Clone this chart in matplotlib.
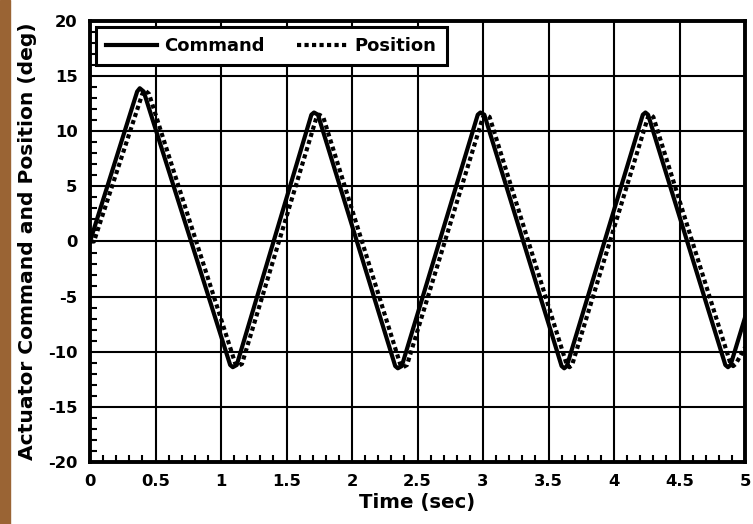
import numpy as np
import matplotlib.pyplot as plt
from matplotlib.patches import Rectangle
from matplotlib.ticker import MultipleLocator

# ---- data ----
cmd_t = [0.00, 0.36, 0.38, 0.41, 1.07, 1.09, 1.12, 1.69, 1.71, 1.74, 2.33, 2.35, 2.38,
         2.96, 2.98, 3.01, 3.60, 3.62, 3.64, 4.22, 4.24, 4.26, 4.85, 4.87, 4.89, 5.00]
cmd_v = [0.0, 13.6, 13.9, 13.6, -11.2, -11.4, -11.2, 11.5, 11.7, 11.5, -11.3, -11.5, -11.3,
         11.5, 11.7, 11.5, -11.3, -11.5, -11.3, 11.5, 11.7, 11.5, -11.2, -11.4, -11.2, -6.9]

pos_t = [0.00, 0.03, 0.40, 0.42, 0.45, 1.11, 1.13, 1.16, 1.73, 1.75, 1.78, 2.37, 2.39, 2.42,
         3.00, 3.02, 3.05, 3.64, 3.66, 3.68, 4.26, 4.28, 4.30, 4.89, 4.91, 4.93, 5.00]
pos_v = [0.0, 0.0, 13.4, 13.7, 13.4, -11.1, -11.3, -11.1, 11.3, 11.5, 11.3, -11.2, -11.4, -11.2,
         11.3, 11.5, 11.3, -11.2, -11.4, -11.2, 11.3, 11.5, 11.3, -11.1, -11.3, -11.1, -9.6]

x_ticks = [0, 0.5, 1, 1.5, 2, 2.5, 3, 3.5, 4, 4.5, 5]
x_labels = ["0", "0.5", "1", "1.5", "2", "2.5", "3", "3.5", "4", "4.5", "5"]
y_ticks = [-20, -15, -10, -5, 0, 5, 10, 15, 20]

plt.rcParams['font.family'] = ['DejaVu Sans']
plt.rcParams['font.weight'] = 'bold'
plt.rcParams['axes.unicode_minus'] = False

fig = plt.figure(figsize=(7.53, 5.24), dpi=100)
fig.patches.append(Rectangle((0, 0), 10 / 753, 1, transform=fig.transFigure,
                             color='#9a6434', zorder=0))
ax = fig.add_axes([90 / 753, 1 - 462 / 524, 655 / 753, 441 / 524])

ax.plot(cmd_t, cmd_v, color='black', lw=3.0, label='Command', zorder=3)
ax.plot(pos_t, pos_v, color='black', lw=3.0, dashes=(1.0, 0.8),
        label='Position', zorder=3)

ax.set_xlim(0, 5)
ax.set_ylim(-20, 20)
ax.set_xticks(x_ticks)
ax.set_xticklabels(x_labels)
ax.set_yticks(y_ticks)
ax.xaxis.set_minor_locator(MultipleLocator(0.1))
ax.yaxis.set_minor_locator(MultipleLocator(1))
ax.tick_params(which='both', direction='in', top=False, right=False,
               labelsize=11.8, width=1.5)
ax.tick_params(which='major', length=0)
ax.tick_params(axis='x', which='major', pad=8.5)
ax.tick_params(axis='y', which='major', pad=9)
ax.tick_params(which='minor', length=5)
ax.grid(True, which='major', color='black', lw=1.5)
for s in ax.spines.values():
    s.set_linewidth(2.8)

ax.set_xlabel("Time (sec)", fontsize=14.2, fontweight='bold', labelpad=3)
ax.set_ylabel("Actuator Command and Position (deg)", fontsize=14.6,
              fontweight='bold', labelpad=8)

leg = ax.legend(loc='upper left', ncol=2, fontsize=13, frameon=True,
                fancybox=False, framealpha=1, edgecolor='black',
                borderaxespad=0.35, handlelength=2.8, handletextpad=0.4,
                columnspacing=1.8, borderpad=0.55)
leg.get_frame().set_linewidth(2.2)
for t in leg.get_texts():
    t.set_fontweight('bold')

fig.savefig("out.png", dpi=100)
